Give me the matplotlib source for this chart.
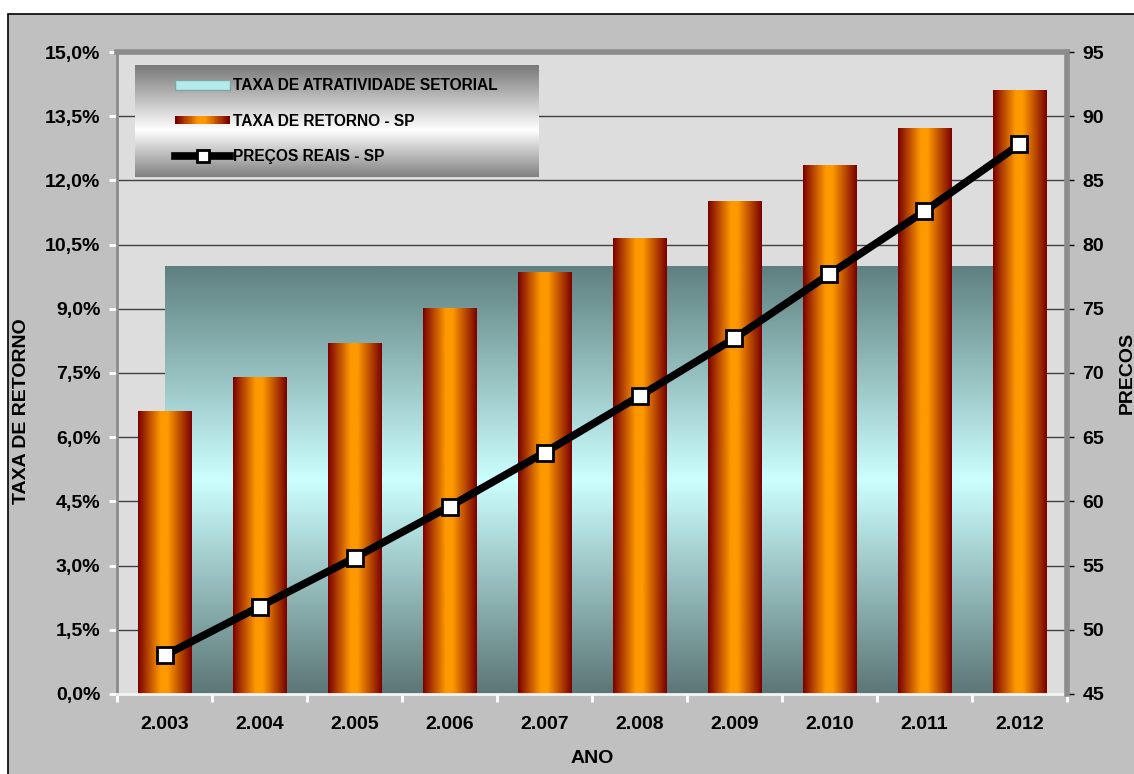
import numpy as np
import matplotlib.pyplot as plt
from matplotlib.patches import Rectangle
from matplotlib.lines import Line2D
from matplotlib.legend_handler import HandlerBase
from matplotlib.colors import LinearSegmentedColormap

plt.rcParams['font.family'] = ['Liberation Sans', 'DejaVu Sans']
plt.rcParams['font.weight'] = 'bold'

anos = ["2.003", "2.004", "2.005", "2.006", "2.007",
        "2.008", "2.009", "2.010", "2.011", "2.012"]
taxa_retorno = [6.6, 7.4, 8.2, 9.0, 9.84, 10.65, 11.5, 12.36, 13.22, 14.1]
taxa_atratividade = [10.0, 10.0, 10.0, 10.0, 10.0, 10.0, 10.0, 10.0, 10.0, 10.0]
precos = [48.0, 51.8, 55.6, 59.6, 63.8, 68.2, 72.7, 77.7, 82.6, 87.8]

x = np.arange(len(anos))

bar_cmap = LinearSegmentedColormap.from_list(
    "barra", [(0, "#7a0000"), (0.42, "#ff9900"), (0.55, "#ff9900"), (1, "#7a0000")])
area_cmap = LinearSegmentedColormap.from_list(
    "area", [(0, "#5c7676"), (0.5, "#ccffff"), (1, "#5f8080")])
leg_cmap = LinearSegmentedColormap.from_list(
    "leg", [(0, "#787878"), (0.58, "#ffffff"), (1, "#808080")])

fig = plt.figure(figsize=(11.34, 7.74), dpi=100, facecolor="white")

# moldura externa
fig.patches.append(Rectangle((0.007, -0.05), 1.1, 1.032, transform=fig.transFigure,
                             facecolor="#c0c0c0", edgecolor="black", lw=1.2, zorder=-5))

ax = fig.add_axes([0.1032, 0.1034, 0.8377, 0.8294])
ax.set_facecolor("#dddddd")

# grade
yt = np.arange(0, 15.01, 1.5)
for v in yt[1:-1]:
    ax.axhline(v, color="#404040", lw=1, zorder=0.5)

# area (taxa de atratividade) com degradê
poly = ax.fill_between(x, 0, taxa_atratividade, color="none", zorder=1)
grad_v = np.linspace(0, 1, 256).reshape(-1, 1)
img = ax.imshow(grad_v, cmap=area_cmap, aspect="auto", origin="lower",
                extent=(x[0], x[-1], 0, max(taxa_atratividade)), zorder=1)
img.set_clip_path(poly.get_paths()[0], ax.transData)

# barras com degradê horizontal
bars = ax.bar(x, taxa_retorno, width=0.56, color="none", zorder=2)
grad_h = np.linspace(0, 1, 256).reshape(1, -1)
for b in bars:
    ax.imshow(grad_h, cmap=bar_cmap, aspect="auto",
              extent=(b.get_x(), b.get_x() + b.get_width(), 0, b.get_height()), zorder=2)

ax.set_xlim(-0.5, len(anos) - 0.5)
ax.set_ylim(0, 15)
ax.set_yticks(yt)
ax.set_yticklabels([f"{v:.1f}%".replace(".", ",") for v in yt], fontsize=14, fontweight="bold")
ax.tick_params(axis="y", direction="out", length=6, width=2, color="white", pad=6)

ax.set_xticks(np.arange(-0.5, len(anos), 1.0))
ax.set_xticklabels([])
ax.set_xticks(x, minor=True)
ax.set_xticklabels(anos, minor=True, fontsize=14, fontweight="bold")
ax.tick_params(axis="x", which="major", direction="out", length=6, width=2, color="white")
ax.tick_params(axis="x", which="minor", length=0, pad=16)

ax.set_xlabel("ANO", fontsize=14, fontweight="bold", labelpad=12)
ax.set_ylabel("TAXA DE RETORNO", fontsize=14, fontweight="bold")
ax.yaxis.set_label_coords(-0.0916, 0.44)

ax.spines["top"].set_color("#8c8c8c")
ax.spines["top"].set_linewidth(4)
ax.spines["left"].set_color("#8c8c8c")
ax.spines["left"].set_linewidth(2)
ax.spines["bottom"].set_color("#f4f4f4")
ax.spines["bottom"].set_linewidth(2)
ax.spines["right"].set_visible(False)

# eixo secundário (preços)
ax2 = ax.twinx()
ax2.plot(x, precos, color="black", lw=5.5, marker="s", markersize=11,
         markerfacecolor="white", markeredgecolor="black", markeredgewidth=2, zorder=5)
ax2.set_ylim(45, 95)
ax2.set_yticks(np.arange(45, 96, 5))
ax2.set_yticklabels([str(v) for v in range(45, 96, 5)], fontsize=14, fontweight="bold")
ax2.tick_params(axis="y", direction="out", length=5, width=1, color="black", pad=6)
ax2.set_ylabel("PRECOS", fontsize=14, fontweight="bold")
ax2.yaxis.set_label_coords(1.054, 0.5)
for s in ["top", "left", "bottom"]:
    ax2.spines[s].set_visible(False)
ax2.spines["right"].set_color("#8c8c8c")
ax2.spines["right"].set_linewidth(4)


# legenda
class GradHandler(HandlerBase):
    def create_artists(self, legend, orig, xd, yd, w, h, fontsize, trans):
        n = 30
        arts = []
        hh = h * 0.75
        for i in range(n):
            arts.append(Rectangle((-xd + w * i / n, -yd + (h - hh) / 2), w / n + 0.3, hh,
                                  facecolor=bar_cmap(i / (n - 1)), edgecolor="none",
                                  transform=trans))
        return arts


lax = fig.add_axes([0.119, 0.7713, 0.3554, 0.1447])
lax.imshow(np.linspace(0, 1, 256).reshape(-1, 1), cmap=leg_cmap, aspect="auto")
lax.axis("off")

h_area = Rectangle((0, 0), 1, 1, facecolor="#b4eaea", edgecolor="#7fa6a6", lw=1)
h_bar = Rectangle((0, 0), 1, 1)
h_line = Line2D([], [], color="black", lw=5.5, marker="s", markersize=8,
                markerfacecolor="white", markeredgecolor="black", markeredgewidth=2)
leg = lax.legend([h_area, h_bar, h_line],
                 ["TAXA DE ATRATIVIDADE SETORIAL", "TAXA DE RETORNO - SP", "PREÇOS REAIS - SP"],
                 handler_map={h_bar: GradHandler()},
                 loc="center left", bbox_to_anchor=(0.085, 0.5), frameon=False,
                 prop={"size": 11.2, "weight": "bold"}, handlelength=3.5, handleheight=0.6,
                 handletextpad=0.2, labelspacing=1.3, borderaxespad=0)

fig.savefig("out.png", dpi=100, facecolor=fig.get_facecolor())
